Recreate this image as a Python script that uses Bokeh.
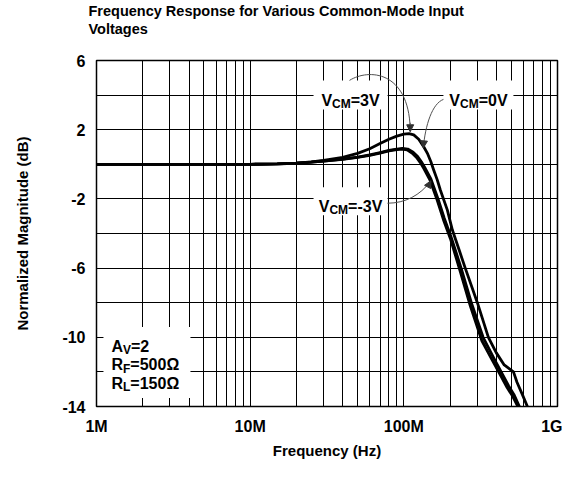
import numpy as np
from bokeh.plotting import figure
from bokeh.models import Range1d, FixedTicker, Arrow, NormalHead
from bokeh.core.properties import value
from bokeh.embed import file_html
from bokeh.resources import INLINE

FONT = "Liberation Sans"

# ---- data (frequency in MHz, magnitude in dB) ----
freq_3v_mhz = [1, 5, 10, 15, 20, 25, 30, 40, 50, 60, 70, 80, 90, 100, 108, 116, 125,
               135, 143, 150, 156, 165, 173, 192, 207, 230, 251, 301, 355, 400, 450,
               517, 545, 590, 637]
mag_3v_db = [0, 0, 0, 0.02, 0.07, 0.14, 0.22, 0.4, 0.63, 0.9, 1.2, 1.45, 1.63, 1.74, 1.77,
             1.7, 1.45, 1.0, 0.6, 0.15, -0.3, -0.9, -1.5, -2.65, -3.8, -5.0, -6.0, -8.0,
             -10.0, -10.9, -11.6, -12.0, -12.6, -13.3, -14.0]

freq_0v_mhz = [1, 10, 15, 20, 25, 30, 40, 50, 60, 70, 80, 90, 98, 106, 115, 123, 130,
               137, 150, 167, 183, 203, 236, 275, 328, 385, 430, 480, 520, 565]
mag_0v_db = [0, 0, 0.02, 0.06, 0.12, 0.19, 0.3, 0.42, 0.55, 0.68, 0.8, 0.88, 0.92, 0.88,
             0.7, 0.45, 0.15, -0.2, -0.85, -2.0, -3.1, -4.2, -6.0, -8.0, -10.0, -11.2,
             -12.0, -12.8, -13.3, -14.0]

freq_m3v_mhz = [1, 10, 15, 20, 25, 30, 40, 50, 60, 70, 80, 90, 97, 105, 113, 121, 128,
                135, 148, 165, 181, 201, 233, 271, 322, 370, 420, 470, 510, 552]
mag_m3v_db = [0, 0, 0.02, 0.06, 0.12, 0.18, 0.29, 0.4, 0.52, 0.65, 0.77, 0.85, 0.88, 0.84,
              0.65, 0.4, 0.1, -0.25, -0.92, -2.08, -3.2, -4.3, -6.2, -8.2, -10.2, -11.2,
              -12.1, -12.9, -13.4, -14.0]

x_ticks_hz = [1e6, 1e7, 1e8, 1e9]
x_tick_labels = ["1M", "10M", "100M", "1G"]
y_ticks = [-14, -10, -6, -2, 2, 6]
y_tick_labels = ["-14", "-10", "-6", "-2", "2", "6"]
y_minor_ticks = [-12, -8, -4, 0, 4]
title_text = "Frequency Response for Various Common-Mode Input\nVoltages\n"

# ---- figure ----
p = figure(frame_width=461, frame_height=346, x_axis_type="log",
           x_range=Range1d(1e6, 1e9), y_range=Range1d(-14, 6),
           output_backend="svg", toolbar_location=None,
           min_border_left=96, min_border_right=5, min_border_top=60, min_border_bottom=62)

p.title.text = title_text
p.title.text_font = FONT
p.title.text_font_style = "bold"
p.title.text_font_size = "14.5px"
p.title.text_color = "black"
p.title.text_line_height = 1.15
p.title.align = "left"
p.title.vertical_align = "top"
p.title.offset = -8
p.title.standoff = 5

x_minor = [k * 10.0 ** e for e in (6, 7, 8) for k in range(2, 10)]
p.xaxis.ticker = FixedTicker(ticks=x_ticks_hz, minor_ticks=x_minor)
p.yaxis.ticker = FixedTicker(ticks=y_ticks, minor_ticks=y_minor_ticks)
p.xaxis.major_label_overrides = {int(t): l for t, l in zip(x_ticks_hz, x_tick_labels)}
p.yaxis.major_label_overrides = {t: l for t, l in zip(y_ticks, y_tick_labels)}

p.xaxis.axis_label = "Frequency (Hz)"
p.yaxis.axis_label = "Normalized Magnitude (dB)"
for ax in (p.xaxis, p.yaxis):
    ax.axis_label_text_font = FONT
    ax.axis_label_text_font_style = "bold"
    ax.axis_label_text_font_size = "15px"
    ax.major_label_text_font = FONT
    ax.major_label_text_font_style = "bold"
    ax.major_label_text_font_size = "16px"
    ax.major_label_text_color = "black"
    ax.axis_label_text_color = "black"
    ax.major_tick_line_color = None
    ax.minor_tick_line_color = None
    ax.axis_line_color = None
p.xaxis.major_label_standoff = 5
p.xaxis.axis_label_standoff = 4
p.yaxis.major_label_standoff = 5
p.yaxis.axis_label_standoff = 28

for g in (p.xgrid, p.ygrid):
    g.grid_line_color = "black"
    g.grid_line_alpha = 1.0
    g.grid_line_width = 1
    g.minor_grid_line_color = "black"
    g.minor_grid_line_width = 1

p.outline_line_color = "black"
p.outline_line_width = 1.5
p.background_fill_color = "white"

# ---- white boxes behind annotation text ----
box_x = [45e6, 305.8e6, 45e6, 2.13e6]
box_y = [4.0, 4.0, -2.14, -11.45]
box_w = [74, 70, 74, 87]
box_h = [29, 29, 28, 71]
p.rect(x=box_x, y=box_y, width=box_w, height=box_h, width_units="screen",
       height_units="screen", fill_color="white", line_color=None)

# ---- curves ----
for f, m in ((freq_m3v_mhz, mag_m3v_db), (freq_0v_mhz, mag_0v_db), (freq_3v_mhz, mag_3v_db)):
    p.line(np.array(f) * 1e6, m, line_color="black", line_width=2.8, line_join="round")

# ---- callout arrows ----
ARROW_C = "#505050"
p.bezier(x0=[44.3e6], y0=[4.85], x1=[110e6], y1=[2.08],
         cx0=[58.9e6], cy0=[5.54], cx1=[107e6], cy1=[5.42], line_color=ARROW_C, line_width=1)
p.bezier(x0=[181e6], y0=[3.75], x1=[134e6], y1=[0.98],
         cx0=[153e6], cy0=[3.52], cx1=[138e6], cy1=[2.25], line_color=ARROW_C, line_width=1)
p.bezier(x0=[78.2e6], y0=[-2.25], x1=[149e6], y1=[-0.98],
         cx0=[102e6], cy0=[-2.25], cx1=[128e6], cy1=[-1.79], line_color=ARROW_C, line_width=1)
for xs, ys, xe, ye in ((110e6, 2.4, 110e6, 1.88), (135e6, 1.3, 134e6, 0.95),
                       (143e6, -1.3, 150e6, -0.95)):
    p.add_layout(Arrow(end=NormalHead(size=7, fill_color="#303030", line_color="#303030"),
                       x_start=xs, y_start=ys, x_end=xe, y_end=ye,
                       line_color=ARROW_C, line_width=1))

# ---- rich text labels ----
W = {'V': .667, 'C': .722, 'M': .833, '=': .584, '0': .556, '1': .556, '2': .556,
     '3': .556, '5': .556, '-': .333, 'A': .722, 'R': .722, 'F': .611, 'L': .611, 'Ω': .768}


def tw(s, size):
    return sum(W.get(c, .6) for c in s) * size


def rich(x, y, parts, dx, dy, center=False):
    if center:
        dx = dx - sum(tw(t, s) for t, s, _ in parts) / 2
    ox = dx
    for txt, size, shift in parts:
        p.text(x=[x], y=[y], text=[txt], x_offset=ox, y_offset=dy + shift,
               text_font=value(FONT), text_font_style="bold", text_font_size=f"{size}px",
               text_align="left", text_baseline="alphabetic", text_color="black")
        ox += tw(txt, size)


rich(45e6, 4.0, [("V", 16, 0), ("CM", 12, 4), ("=3V", 16, 0)], 0, 5, center=True)
rich(305.8e6, 4.0, [("V", 16, 0), ("CM", 12, 4), ("=0V", 16, 0)], 0, 5, center=True)
rich(45e6, -2.14, [("V", 16, 0), ("CM", 12, 4), ("=-3V", 16, 0)], 0, 5, center=True)
rich(2.13e6, -11.45, [("A", 16, 0), ("V", 12, 4), ("=2", 16, 0)], -35.5, -16)
rich(2.13e6, -11.45, [("R", 16, 0), ("F", 12, 4), ("=500Ω", 16, 0)], -35.5, 2.5)
rich(2.13e6, -11.45, [("R", 16, 0), ("L", 12, 4), ("=150Ω", 16, 0)], -35.5, 21)

open("out.html", "w").write(file_html(p, INLINE))
